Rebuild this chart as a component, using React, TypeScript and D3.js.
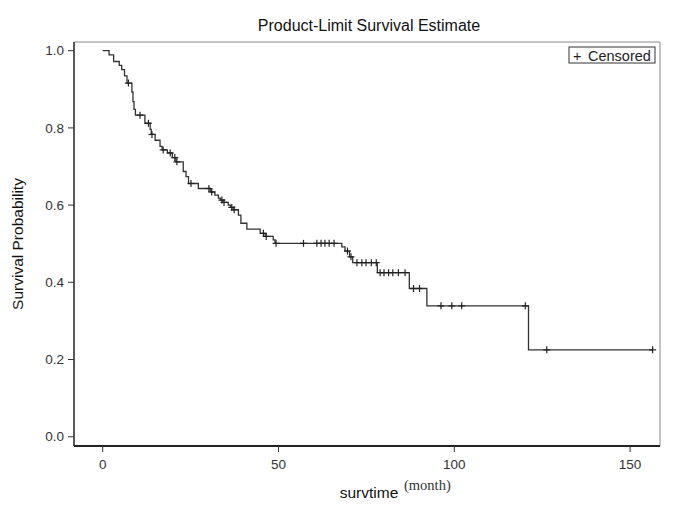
import React from "react";
import * as d3 from "d3";

const stepTimes = [0, 1.8, 3.1, 4.7, 5.4, 6.2, 6.9, 8.3, 8.6, 8.9, 9.3, 12.0, 13.5, 13.8, 14.9, 16.3, 16.9, 18.4, 19.8, 20.8, 22.9, 23.7, 24.4, 27.2, 30.6, 31.9, 32.9, 33.5, 34.2, 35.7, 36.3, 37.1, 38.6, 39.3, 41.0, 44.8, 46.2, 48.5, 49.0, 68.0, 68.9, 70.2, 71.1, 78.1, 87.2, 92.2, 121.1];
const stepSurvival = [1.0, 0.989, 0.972, 0.962, 0.951, 0.935, 0.916, 0.893, 0.868, 0.848, 0.833, 0.812, 0.796, 0.783, 0.768, 0.752, 0.743, 0.735, 0.723, 0.712, 0.687, 0.674, 0.656, 0.643, 0.634, 0.626, 0.618, 0.613, 0.607, 0.6, 0.594, 0.588, 0.574, 0.553, 0.538, 0.527, 0.519, 0.51, 0.501, 0.492, 0.481, 0.466, 0.451, 0.425, 0.384, 0.339, 0.225];
const censorTimes = [7.3, 10.6, 13.0, 14.0, 17.2, 19.2, 20.5, 21.1, 25.1, 30.2, 31.0, 33.9, 34.5, 36.7, 37.4, 45.7, 46.5, 49.3, 57.1, 60.9, 62.1, 63.2, 64.4, 65.8, 69.6, 70.6, 72.3, 73.7, 74.9, 76.4, 77.8, 78.9, 80.0, 81.3, 82.5, 84.1, 86.0, 88.4, 90.1, 96.2, 99.3, 102.1, 120.2, 126.3, 156.4];
const xTicks = [0, 50, 100, 150];
const yTicks = [0, 0.2, 0.4, 0.6, 0.8, 1.0];

const W = 685, H = 519;
const L = 74, R = 660, T = 42, B = 446;
const FONT = "'Liberation Sans', Arial, sans-serif";

function survivalAt(t: number): number {
  let s = stepSurvival[0];
  for (let i = 0; i < stepTimes.length; i++) {
    if (stepTimes[i] <= t) s = stepSurvival[i];
  }
  return s;
}

export default function App() {
  const x = d3.scaleLinear().domain([-8.17, 158.5]).range([L, R]);
  const y = d3.scaleLinear().domain([-0.024, 1.0225]).range([B, T]);
  const lastT = censorTimes[censorTimes.length - 1];
  const pts: [number, number][] = stepTimes.map((t, i) => [t, stepSurvival[i]]);
  pts.push([lastT, survivalAt(lastT)]);
  const line = d3
    .line<[number, number]>()
    .x((d) => x(d[0]))
    .y((d) => y(d[1]))
    .curve(d3.curveStepAfter);
  const fmt = d3.format(".1f");
  const cs = 3.5;
  return (
    <svg width={W} height={H} style={{ position: "absolute", left: 0, top: 0, background: "#fff" }} fontFamily={FONT}>
      <rect x={0} y={0} width={W} height={H} fill="#fff" />
      <text x={369} y={31} textAnchor="middle" fontSize={16} fill="#111">
        Product-Limit Survival Estimate
      </text>
      {/* frame */}
      <line x1={L} y1={T} x2={R} y2={T} stroke="#8a8a8a" strokeWidth={1} />
      <line x1={R} y1={T} x2={R} y2={B} stroke="#8a8a8a" strokeWidth={1} />
      <line x1={L} y1={T} x2={L} y2={B} stroke="#222" strokeWidth={1.5} />
      <line x1={L} y1={B} x2={R} y2={B} stroke="#222" strokeWidth={2} />
      {/* y ticks */}
      {yTicks.map((v) => (
        <g key={"y" + v}>
          <line x1={L - 6} x2={L} y1={y(v)} y2={y(v)} stroke="#333" strokeWidth={1} />
          <text x={L - 10} y={y(v)} dy="0.35em" textAnchor="end" fontSize={13.5} fill="#333">
            {fmt(v)}
          </text>
        </g>
      ))}
      {/* x ticks */}
      {xTicks.map((v) => (
        <g key={"x" + v}>
          <line x1={x(v)} x2={x(v)} y1={B} y2={B + 6} stroke="#333" strokeWidth={1} />
          <text x={x(v)} y={469} textAnchor="middle" fontSize={13.5} fill="#333">
            {v}
          </text>
        </g>
      ))}
      <text
        transform={`translate(23, ${(T + B) / 2}) rotate(-90)`}
        textAnchor="middle"
        fontSize={15.5}
        fill="#111"
      >
        Survival Probability
      </text>
      <text x={369} y={498} textAnchor="middle" fontSize={15.5} fill="#111">
        survtime
      </text>
      <text x={404} y={490} fontSize={14.5} fill="#333" fontFamily="'Liberation Serif', 'Times New Roman', serif">
        (month)
      </text>
      {/* curve */}
      <path d={line(pts) || ""} fill="none" stroke="#333" strokeWidth={1.3} />
      {censorTimes.map((t, i) => {
        const cx = x(t);
        const cy = y(survivalAt(t));
        return (
          <g key={"c" + i} stroke="#222" strokeWidth={1.2}>
            <line x1={cx - cs} x2={cx + cs} y1={cy} y2={cy} />
            <line x1={cx} x2={cx} y1={cy - cs} y2={cy + cs} />
          </g>
        );
      })}
      {/* legend */}
      <rect x={569} y={47} width={86} height={16} fill="#fff" stroke="#333" strokeWidth={1} />
      <text x={573} y={60.5} fontSize={14.5} fill="#222">
        +
      </text>
      <text x={588} y={60.5} fontSize={14.5} fill="#222">
        Censored
      </text>
    </svg>
  );
}
